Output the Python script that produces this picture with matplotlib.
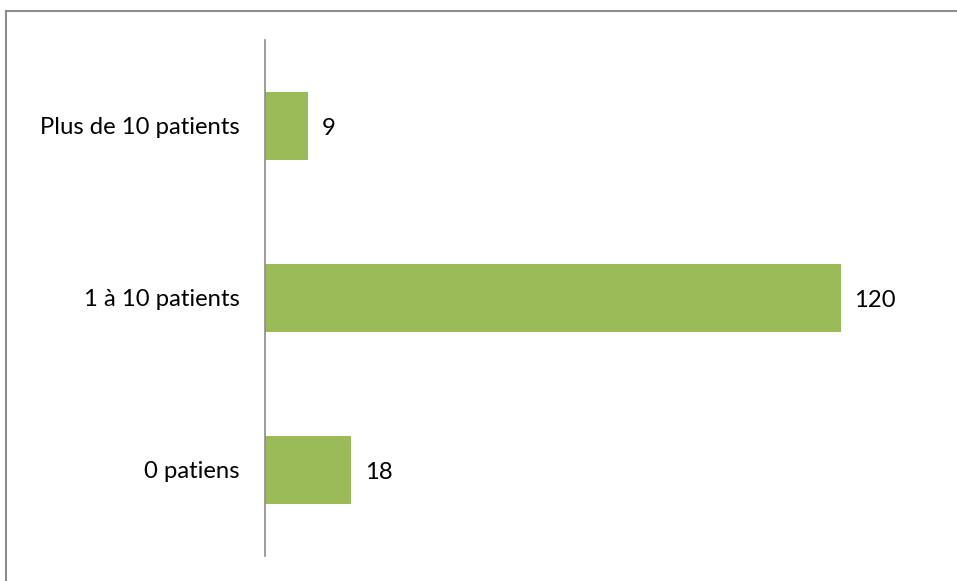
import matplotlib
matplotlib.use('Agg')
import matplotlib.pyplot as plt
from matplotlib.lines import Line2D

categories = ['0 patiens', '1 à 10 patients', 'Plus de 10 patients']
counts = [18, 120, 9]

bar_color = '#9bbb59'

plt.rcParams['font.family'] = ['Lato', 'DejaVu Sans']

fig = plt.figure(figsize=(9.57, 5.81), dpi=100)
ax = fig.add_axes([265 / 957, 1 - 556 / 581, (937 - 265) / 957, (556 - 40) / 581])

idx = list(range(len(categories)))
bars = ax.barh(idx, counts, height=0.4, color=bar_color)

ax.set_xlim(0, 140)
ax.set_ylim(-0.5, 2.5)
ax.set_yticks(idx)
ax.set_yticklabels(categories, fontsize=17.2)
ax.tick_params(axis='y', length=0, pad=18)
ax.set_xticks([])

for s in ['top', 'right', 'bottom']:
    ax.spines[s].set_visible(False)
ax.spines['left'].set_color('#8c8c8c')
ax.spines['left'].set_linewidth(1.2)

for i, v in zip(idx, counts):
    ax.annotate(str(v), (v, i), xytext=(9.5, -1.5), textcoords='offset points',
                va='center', ha='left', fontsize=17.2)

# outer frame (top and left edges only)
fig.add_artist(Line2D([5.5 / 957, 1], [1 - 10.5 / 581, 1 - 10.5 / 581],
                      transform=fig.transFigure, color='#8c8c8c', lw=1.5))
fig.add_artist(Line2D([5.5 / 957, 5.5 / 957], [0, 1 - 10.5 / 581],
                      transform=fig.transFigure, color='#8c8c8c', lw=1.5))

fig.savefig('out.png', dpi=100)
